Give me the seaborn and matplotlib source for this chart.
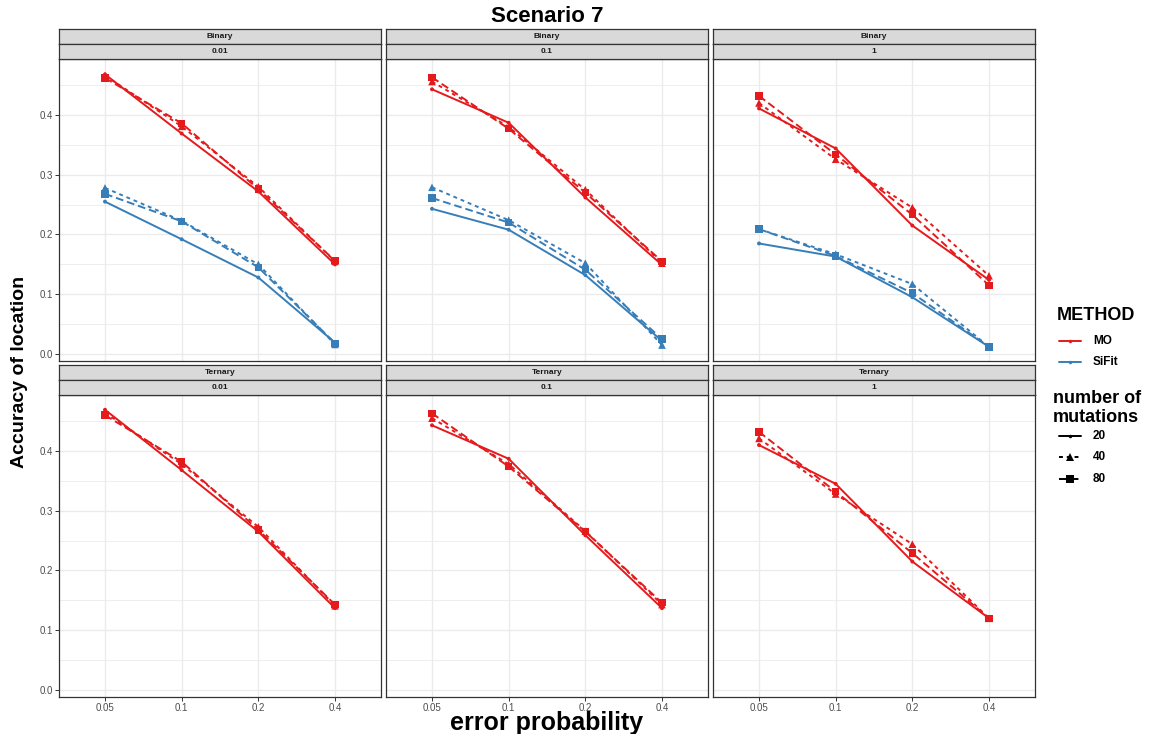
import numpy as np
import pandas as pd
import matplotlib
matplotlib.use("Agg")
import matplotlib.pyplot as plt
import seaborn as sns
from matplotlib.lines import Line2D

# ---------------- data ----------------
error_probs = ["0.05", "0.1", "0.2", "0.4"]
data_types = ["Binary", "Ternary"]
params = ["0.01", "0.1", "1"]
methods = ["MO", "SiFit"]
mutations = ["20", "40", "80"]

# rows: mutations 20, 40, 80 ; columns: error probability
MO_binary_001 = [[0.468, 0.369, 0.272, 0.150],
                 [0.466, 0.381, 0.280, 0.155],
                 [0.462, 0.386, 0.276, 0.156]]
SiFit_binary_001 = [[0.255, 0.192, 0.128, 0.019],
                    [0.278, 0.223, 0.150, 0.016],
                    [0.268, 0.222, 0.145, 0.018]]
MO_binary_01 = [[0.443, 0.387, 0.262, 0.149],
                [0.456, 0.380, 0.275, 0.152],
                [0.463, 0.377, 0.270, 0.155]]
SiFit_binary_01 = [[0.243, 0.208, 0.132, 0.022],
                   [0.279, 0.224, 0.152, 0.015],
                   [0.261, 0.220, 0.141, 0.025]]
MO_binary_1 = [[0.411, 0.344, 0.215, 0.124],
               [0.420, 0.326, 0.245, 0.131],
               [0.432, 0.334, 0.233, 0.115]]
SiFit_binary_1 = [[0.185, 0.163, 0.095, 0.012],
                  [0.209, 0.167, 0.117, 0.012],
                  [0.209, 0.164, 0.102, 0.012]]
MO_ternary_001 = [[0.469, 0.368, 0.265, 0.137],
                  [0.464, 0.378, 0.273, 0.141],
                  [0.460, 0.382, 0.268, 0.143]]
MO_ternary_01 = [[0.443, 0.387, 0.259, 0.137],
                 [0.455, 0.378, 0.266, 0.143],
                 [0.463, 0.374, 0.265, 0.146]]
MO_ternary_1 = [[0.410, 0.345, 0.215, 0.120],
                [0.421, 0.328, 0.244, 0.120],
                [0.432, 0.332, 0.229, 0.120]]

series = {
    ("Binary", "0.01", "MO"): MO_binary_001,
    ("Binary", "0.01", "SiFit"): SiFit_binary_001,
    ("Binary", "0.1", "MO"): MO_binary_01,
    ("Binary", "0.1", "SiFit"): SiFit_binary_01,
    ("Binary", "1", "MO"): MO_binary_1,
    ("Binary", "1", "SiFit"): SiFit_binary_1,
    ("Ternary", "0.01", "MO"): MO_ternary_001,
    ("Ternary", "0.1", "MO"): MO_ternary_01,
    ("Ternary", "1", "MO"): MO_ternary_1,
}

rows = []
for (dt, p, m), vals in series.items():
    for mi, mut in enumerate(mutations):
        for ei, ep in enumerate(error_probs):
            rows.append(dict(type=dt, param=p, METHOD=m, mutations=mut,
                             pos=ei, acc=vals[mi][ei]))
df = pd.DataFrame(rows)

# ---------------- style ----------------
W, H = 1153, 734
sns.set_theme(style="white")
plt.rcParams['font.family'] = ['Liberation Sans', 'DejaVu Sans']

palette = {"MO": "#E41A1C", "SiFit": "#377EB8"}
dashes = {"20": "", "40": (2, 2), "80": (4, 2)}
markers = {"20": "o", "40": "^", "80": "s"}
sizes = {"20": 8, "40": 30, "80": 28}
LW = 1.4
DARK = "#333333"

fig = plt.figure(figsize=(W / 100, H / 100), dpi=100)


def fbox(x0, y0, x1, y1):
    return [x0 / W, 1 - y1 / H, (x1 - x0) / W, (y1 - y0) / H]


px = [(59, 381), (386, 708), (713, 1035)]
py = [(59, 361), (395, 697)]
strip_y = [(29, 44, 59), (365, 380, 395)]

for r, dt in enumerate(data_types):
    for c, p in enumerate(params):
        ax = fig.add_axes(fbox(px[c][0], py[r][0], px[c][1], py[r][1]))
        sub = df[(df["type"] == dt) & (df["param"] == p)]
        ax.set_axisbelow(True)
        sns.lineplot(data=sub, x="pos", y="acc", hue="METHOD", style="mutations",
                     hue_order=methods, style_order=mutations, palette=palette,
                     dashes=dashes, markers=False, linewidth=LW, legend=False,
                     estimator=None, ax=ax)
        sns.scatterplot(data=sub, x="pos", y="acc", hue="METHOD", style="mutations",
                        size="mutations", sizes=sizes, size_order=mutations,
                        hue_order=methods, style_order=mutations, palette=palette,
                        markers=markers, linewidth=0, legend=False, ax=ax, zorder=3)
        ax.set_xlim(-0.6, 3.6)
        ax.set_ylim(-0.0117, 0.4937)
        ax.set_xticks(range(len(error_probs)))
        ax.set_xticklabels(error_probs)
        ax.set_yticks([0.0, 0.1, 0.2, 0.3, 0.4])
        ax.set_yticklabels(["0.0", "0.1", "0.2", "0.3", "0.4"])
        ax.set_yticks([0.05, 0.15, 0.25, 0.35, 0.45], minor=True)
        ax.grid(True, which="major", color="#EBEBEB", lw=1.0)
        ax.grid(True, which="minor", axis="y", color="#EBEBEB", lw=0.6)
        ax.set_xlabel("")
        ax.set_ylabel("")
        for s in ax.spines.values():
            s.set_color(DARK)
            s.set_linewidth(0.9)
        ax.tick_params(axis="both", which="major", length=3, width=0.7, color=DARK,
                       labelsize=7, labelcolor="#4D4D4D", pad=1.5)
        ax.tick_params(axis="both", which="minor", length=0)
        ax.tick_params(left=(c == 0), labelleft=(c == 0),
                       bottom=(r == 1), labelbottom=(r == 1))
        # strips
        y0, ym, y1 = strip_y[r]
        for (sa, sb, txt) in [(y0, ym, dt), (ym, y1, p)]:
            sax = fig.add_axes(fbox(px[c][0], sa, px[c][1], sb))
            sax.set_facecolor("#D9D9D9")
            sax.set_xticks([])
            sax.set_yticks([])
            for s in sax.spines.values():
                s.set_color(DARK)
                s.set_linewidth(0.9)
            sax.text(0.5, 0.5, txt, ha="center", va="center", fontsize=6,
                     fontweight="bold", color="#1A1A1A", transform=sax.transAxes)

# titles
fig.text(547 / W, 1 - 17 / H, "Scenario 7", ha="center", va="center",
         fontsize=16, fontweight="bold", color="black")
fig.text(547 / W, 1 - 730 / H, "error probability", ha="center", va="baseline",
         fontsize=18, fontweight="bold", color="black")
fig.text(20 / W, 1 - 372 / H, "Accuracy of location", ha="center", va="center",
         rotation=90, fontsize=14, fontweight="bold", color="black",
         family=['Liberation Sans Narrow', 'Liberation Sans', 'DejaVu Sans'])

# legend
lax = fig.add_axes([0, 0, 1, 1])
lax.set_xlim(0, W)
lax.set_ylim(H, 0)
lax.axis("off")
lax.patch.set_visible(False)

lax.text(1057, 315, "METHOD", ha="left", va="center", fontsize=13,
         fontweight="bold", color="black")
for m, yy in zip(methods, [341, 362]):
    lax.add_line(Line2D([1059, 1081], [yy, yy], color=palette[m], lw=LW))
    lax.plot([1070], [yy], marker="o", ms=2.5, color=palette[m], mew=0)
    lax.text(1093, yy, m, ha="left", va="center", fontsize=8.5,
             fontweight="bold", color="black")

lax.text(1053, 408, "number of\nmutations", ha="left", va="center", fontsize=13,
         fontweight="bold", color="black", linespacing=1.2)
for mut, yy in zip(mutations, [436, 457, 479]):
    ln = Line2D([1059, 1081], [yy, yy], color="black", lw=LW)
    if dashes[mut]:
        ln.set_dashes(dashes[mut])
    lax.add_line(ln)
    ms = {"20": 2.5, "40": 5.5, "80": 5.5}[mut]
    lax.plot([1070], [yy], marker=markers[mut], ms=ms, color="black", mew=0)
    lax.text(1093, yy, mut, ha="left", va="center", fontsize=8.5,
             fontweight="bold", color="black")

fig.savefig("out.png", dpi=100, facecolor="white")
